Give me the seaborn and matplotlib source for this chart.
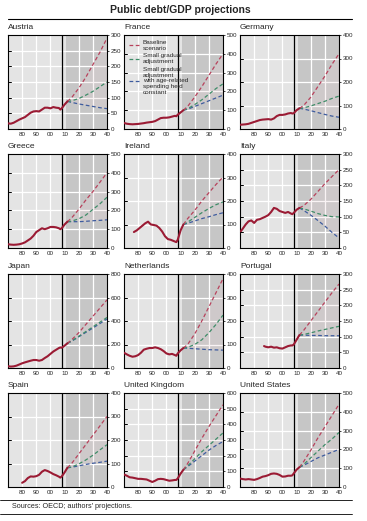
import seaborn as sns
import numpy as np
import matplotlib.pyplot as plt
import pandas as pd
from matplotlib.lines import Line2D

sns.set_style('white')
plt.rcParams['font.family'] = ['Liberation Sans', 'DejaVu Sans']

# history (year, debt/GDP %) and projections per country
countries = ['Austria', 'France', 'Germany', 'Greece', 'Ireland', 'Italy',
             'Japan', 'Netherlands', 'Portugal', 'Spain', 'United Kingdom', 'United States']

full_years = [1970, 1972, 1974, 1976, 1978, 1980, 1982, 1984, 1986, 1988, 1990, 1992,
              1994, 1996, 1998, 2000, 2002, 2004, 2006, 2007, 2008, 2010, 2012]
ireland_years = [1977, 1979, 1981, 1983, 1985, 1987, 1989, 1991, 1993, 1995, 1997,
                 1999, 2001, 2003, 2005, 2007, 2008, 2010, 2012]
portugal_years = [1987, 1988, 1990, 1992, 1994, 1996, 1998, 2000, 2002, 2004, 2006,
                  2007, 2008, 2010, 2012]
spain_years = [1980, 1982, 1984, 1986, 1988, 1990, 1992, 1994, 1996, 1998, 2000,
               2002, 2004, 2006, 2007, 2008, 2010, 2012]

hist_years = {c: full_years for c in countries}
hist_years['Ireland'] = ireland_years
hist_years['Portugal'] = portugal_years
hist_years['Spain'] = spain_years

hist_vals = {
    'Austria': [18, 17, 20, 25, 30, 34, 38, 45, 52, 56, 57, 56, 62, 68, 68, 66, 70, 68, 67, 62, 66, 78, 88],
    'France': [32, 28, 26, 25, 26, 27, 29, 31, 34, 36, 38, 42, 50, 58, 60, 60, 62, 66, 70, 68, 76, 88, 100],
    'Germany': [18, 19, 20, 22, 26, 30, 34, 38, 40, 41, 42, 40, 45, 55, 60, 60, 62, 66, 68, 66, 67, 80, 88],
    'Greece': [20, 18, 17, 18, 20, 24, 30, 40, 50, 65, 85, 95, 105, 100, 105, 112, 112, 110, 105, 100, 105, 125, 140],
    'Ireland': [68, 75, 85, 95, 105, 112, 100, 98, 95, 85, 70, 50, 38, 35, 30, 25, 35, 75, 100],
    'Italy': [50, 62, 75, 85, 88, 80, 90, 92, 96, 100, 105, 115, 128, 125, 118, 115, 112, 115, 110, 108, 112, 122, 128],
    'Japan': [15, 12, 14, 20, 30, 40, 48, 55, 62, 68, 68, 62, 68, 85, 100, 120, 140, 155, 170, 175, 172, 190, 210],
    'Netherlands': [65, 58, 52, 48, 50, 55, 65, 78, 82, 85, 85, 88, 85, 80, 72, 62, 58, 60, 55, 52, 62, 75, 85],
    'Portugal': [70, 68, 66, 68, 65, 66, 63, 62, 66, 70, 72, 72, 75, 90, 105],
    'Spain': [18, 25, 38, 45, 44, 46, 52, 65, 72, 68, 62, 55, 50, 44, 40, 45, 62, 82],
    'United Kingdom': [80, 72, 62, 60, 56, 52, 52, 50, 48, 40, 32, 40, 50, 52, 50, 45, 40, 42, 45, 45, 55, 85, 110],
    'United States': [45, 42, 40, 42, 40, 38, 42, 48, 55, 58, 63, 70, 72, 70, 64, 55, 56, 60, 60, 62, 72, 92, 105],
}

proj_years = [2012, 2015, 2020, 2025, 2030, 2035, 2040]
baseline = {
    'Austria': [88, 100, 130, 165, 205, 245, 290],
    'France': [100, 120, 170, 225, 285, 345, 400],
    'Germany': [88, 100, 135, 180, 225, 275, 320],
    'Greece': [140, 160, 205, 255, 300, 350, 400],
    'Ireland': [100, 125, 160, 200, 235, 270, 302],
    'Italy': [128, 135, 155, 180, 205, 228, 250],
    'Japan': [210, 240, 300, 370, 440, 510, 580],
    'Netherlands': [85, 100, 145, 200, 260, 320, 380],
    'Portugal': [105, 120, 150, 180, 210, 240, 268],
    'Spain': [82, 100, 140, 180, 220, 260, 300],
    'United Kingdom': [110, 150, 230, 310, 385, 455, 525],
    'United States': [105, 135, 195, 260, 320, 380, 440],
}
gradual = {
    'Austria': [88, 90, 97, 108, 120, 135, 150],
    'France': [100, 108, 130, 155, 185, 215, 240],
    'Germany': [88, 90, 98, 108, 118, 130, 140],
    'Greece': [140, 143, 155, 175, 205, 235, 270],
    'Ireland': [100, 110, 130, 150, 168, 184, 196],
    'Italy': [128, 125, 118, 110, 104, 100, 99],
    'Japan': [210, 230, 270, 310, 350, 390, 430],
    'Netherlands': [85, 88, 100, 120, 150, 185, 225],
    'Portugal': [105, 107, 112, 118, 123, 128, 133],
    'Spain': [82, 85, 98, 115, 135, 158, 180],
    'United Kingdom': [110, 135, 180, 225, 265, 305, 345],
    'United States': [105, 120, 155, 190, 225, 255, 290],
}
age_const = {
    'Austria': [88, 85, 80, 76, 72, 68, 65],
    'France': [100, 105, 120, 135, 150, 165, 180],
    'Germany': [88, 85, 78, 70, 62, 55, 50],
    'Greece': [140, 140, 140, 142, 145, 147, 150],
    'Ireland': [100, 105, 115, 125, 133, 142, 150],
    'Italy': [128, 120, 105, 88, 70, 50, 32],
    'Japan': [210, 228, 265, 303, 340, 378, 418],
    'Netherlands': [85, 84, 82, 80, 78, 77, 76],
    'Portugal': [105, 105, 104, 104, 103, 103, 103],
    'Spain': [82, 84, 90, 96, 101, 105, 110],
    'United Kingdom': [110, 130, 165, 200, 235, 265, 290],
    'United States': [105, 115, 135, 155, 170, 185, 200],
}

y_max = {'Austria': 300, 'France': 500, 'Germany': 400, 'Greece': 500, 'Ireland': 400,
         'Italy': 300, 'Japan': 800, 'Netherlands': 400, 'Portugal': 300, 'Spain': 400,
         'United Kingdom': 600, 'United States': 500}
y_step = {'Austria': 50, 'France': 100, 'Germany': 100, 'Greece': 100, 'Ireland': 100,
          'Italy': 50, 'Japan': 200, 'Netherlands': 100, 'Portugal': 50, 'Spain': 100,
          'United Kingdom': 100, 'United States': 100}

x_ticks = [1980, 1990, 2000, 2010, 2020, 2030, 2040]
x_labels = ['80', '90', '00', '10', '20', '30', '40']

hist_color = '#9B1B34'
base_color = '#B8425C'
grad_color = '#3F8C68'
age_color = '#3E5C9E'

W, H = 367, 521
fig = plt.figure(figsize=(W / 100, H / 100), dpi=100)
fig.patch.set_facecolor('white')

col_left = [8, 124, 240]
row_top = [35, 154, 274, 393]
pw, ph = 99, 94

for i, c in enumerate(countries):
    r, k = divmod(i, 3)
    ax = fig.add_axes([col_left[k] / W, 1 - (row_top[r] + ph) / H, pw / W, ph / H])
    ax.set_facecolor('#E4E4E4')
    ax.axvspan(2010.7, 2041, color='#C6C6C6', zorder=0, lw=0)
    ymax = y_max[c]
    yt = np.arange(0, ymax + 1, y_step[c])
    for y in yt[1:-1]:
        ax.axhline(y, color='white', lw=0.9, zorder=1)
    for x in [1980, 1990, 2000, 2020, 2030]:
        ax.axvline(x, color='white', lw=0.9, zorder=1)
    ax.axvline(2008, color='black', lw=0.9, zorder=2)

    # fan between highest and lowest scenario
    lo = np.minimum(gradual[c], age_const[c])
    ax.fill_between(proj_years, lo, baseline[c], color='#E8D2D6', alpha=0.25, lw=0, zorder=2)

    d = pd.DataFrame({'year': hist_years[c], 'debt': hist_vals[c]})
    sns.lineplot(data=d, x='year', y='debt', ax=ax, color=hist_color, lw=1.5, zorder=4)
    for vals, col in [(age_const[c], age_color), (gradual[c], grad_color), (baseline[c], base_color)]:
        p = pd.DataFrame({'year': proj_years, 'debt': vals})
        sns.lineplot(data=p, x='year', y='debt', ax=ax, color=col, lw=0.9,
                     dashes=False, linestyle=(0, (3, 2)), zorder=3)

    ax.set_xlim(1970, 2040)
    ax.set_ylim(0, ymax)
    ax.set_xlabel('')
    ax.set_ylabel('')
    ax.set_xticks(x_ticks)
    ax.set_xticklabels(x_labels)
    ax.set_xticks(np.arange(1975, 2040, 5), minor=True)
    ax.set_yticks(yt)
    ax.yaxis.tick_right()
    ax.tick_params(axis='x', which='both', direction='in', length=3.5, width=0.7,
                   labelsize=4.5, pad=2.5, color='black')
    ax.tick_params(axis='y', which='major', direction='out', length=1.5, width=0.6,
                   labelsize=4.5, pad=1, right=True, left=False)
    # inner ticks on left spine
    for y in yt[1:-1]:
        ax.plot([1970, 1972], [y, y], color='black', lw=0.7, zorder=5, clip_on=False)
    for s in ax.spines.values():
        s.set_color('black')
        s.set_linewidth(0.8)
    ax.text(0, 1.04, c, transform=ax.transAxes, fontsize=6, ha='left', va='bottom')

    if c == 'France':
        handles = [Line2D([], [], color=base_color, lw=0.9, linestyle=(0, (3, 2))),
                   Line2D([], [], color=grad_color, lw=0.9, linestyle=(0, (3, 2))),
                   Line2D([], [], color=age_color, lw=0.9, linestyle=(0, (3, 2)))]
        labels = ['Baseline\nscenario', 'Small gradual\nadjustment',
                  'Small gradual\nadjustment\nwith age-related\nspending held\nconstant']
        ax.legend(handles, labels, loc='upper left', bbox_to_anchor=(0.0, 1.0), frameon=False,
                  fontsize=4.6, handlelength=1.6, handletextpad=0.5, labelspacing=0.4,
                  borderaxespad=0.4)

fig.text(180 / W, 1 - 10 / H, 'Public debt/GDP projections', ha='center', va='center',
         fontsize=7.5, fontweight='bold')
fig.add_artist(Line2D([8 / W, 352 / W], [1 - 19 / H, 1 - 19 / H], color='black', lw=0.8))
fig.add_artist(Line2D([0, 352 / W], [1 - 500 / H, 1 - 500 / H], color='black', lw=0.6))
fig.text(12 / W, 1 - 507 / H, "Sources: OECD; authors' projections.", ha='left', va='center',
         fontsize=5.2)
fig.add_artist(Line2D([0, 352 / W], [1 - 514 / H, 1 - 514 / H], color='black', lw=0.6))

fig.savefig('out.png', dpi=100, facecolor='white')
